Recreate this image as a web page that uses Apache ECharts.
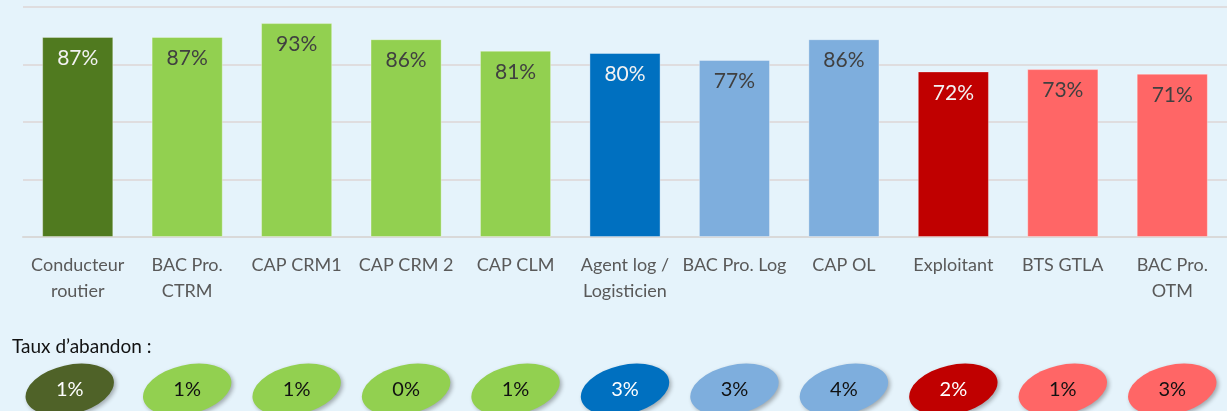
<!DOCTYPE html>
<html>
<head>
<meta charset="utf-8">
<script src="https://cdn.jsdelivr.net/npm/echarts@6/dist/echarts.min.js"></script>
<style>
  html, body { margin: 0; padding: 0; background: #e5f3fb; }
  #chart { width: 1227px; height: 411px; }
</style>
</head>
<body>
<div id="chart"></div>
<script>
// formations
const categories = [
  'Conducteur\nroutier', 'BAC Pro.\nCTRM', 'CAP CRM1', 'CAP CRM 2', 'CAP CLM',
  'Agent log /\nLogisticien', 'BAC Pro. Log', 'CAP OL', 'Exploitant', 'BTS GTLA', 'BAC Pro.\nOTM'
]
// taux de réussite (%)
const successRates = [87, 87, 93, 86, 81, 80, 77, 86, 72, 73, 71]
// taux d'abandon (%)
const dropoutRates = [1, 1, 1, 0, 1, 3, 3, 4, 2, 1, 3]
const barColors = ['#507a1f', '#92d050', '#92d050', '#92d050', '#92d050', '#0070c0',
  '#7eaedd', '#7eaedd', '#c00000', '#ff6666', '#ff6666']
const ovalColors = ['#4f6228', '#92d050', '#92d050', '#92d050', '#92d050', '#0070c0',
  '#7eaedd', '#7eaedd', '#c00000', '#ff6666', '#ff6666']
const darkBars = [true, false, false, false, false, true, false, false, true, false, false]

const FONT = 'Lato, "Open Sans", sans-serif'

const chart = echarts.init(document.getElementById('chart'))

chart.setOption({
  backgroundColor: '#e5f3fb',
  animation: false,
  title: {
    text: 'Taux d\u2019abandon :',
    left: 7,
    top: 332,
    textStyle: { fontFamily: FONT, fontSize: 19, fontWeight: 'normal', color: '#111' }
  },
  grid: [
    { left: 23, right: -8, top: 7, bottom: 174 },
    { left: 23, right: -8, top: 368, height: 48 }
  ],
  xAxis: [
    {
      type: 'category',
      gridIndex: 0,
      data: categories,
      axisLine: { lineStyle: { color: '#d9d9d9', width: 2 } },
      axisTick: { show: false },
      axisLabel: {
        margin: 15,
        color: '#595959',
        fontFamily: FONT,
        fontSize: 18,
        lineHeight: 26,
        interval: 0
      }
    },
    {
      type: 'category',
      gridIndex: 1,
      data: categories,
      show: false
    }
  ],
  yAxis: [
    {
      type: 'value',
      gridIndex: 0,
      min: 0,
      max: 100,
      interval: 25,
      axisLabel: { show: false },
      axisLine: { show: false },
      axisTick: { show: false },
      splitLine: { lineStyle: { color: '#dcd6d6', width: 1.5 } }
    },
    {
      type: 'value',
      gridIndex: 1,
      min: 0,
      max: 1,
      show: false
    }
  ],
  series: [
    {
      type: 'bar',
      xAxisIndex: 0,
      yAxisIndex: 0,
      barWidth: '65%',
      data: successRates.map((v, i) => ({
        value: v,
        itemStyle: { color: barColors[i] },
        label: { color: darkBars[i] ? '#f2f2f2' : '#404040' }
      })),
      itemStyle: { borderColor: 'rgba(255,255,255,0.35)', borderWidth: 1 },
      label: {
        show: true,
        position: 'insideTop',
        distance: 11,
        formatter: '{c}%',
        fontFamily: FONT,
        fontSize: 21
      }
    },
    {
      type: 'scatter',
      xAxisIndex: 1,
      yAxisIndex: 1,
      symbol: 'circle',
      symbolSize: [90, 49],
      symbolRotate: 13,
      data: dropoutRates.map((v, i) => ({
        value: [i, 0.5, v],
        symbolOffset: i === 0 ? [-8, 0] : [0, 0],
        itemStyle: { color: ovalColors[i] },
        label: { color: darkBars[i] ? '#ffffff' : '#111111' }
      })),
      itemStyle: {
        opacity: 1,
        shadowBlur: 4,
        shadowOffsetX: 2,
        shadowOffsetY: 2,
        shadowColor: 'rgba(0,0,0,0.3)'
      },
      label: {
        show: true,
        position: 'inside',
        formatter: p => p.value[2] + '%',
        fontFamily: FONT,
        fontSize: 20
      }
    }
  ]
})
</script>
</body>
</html>
